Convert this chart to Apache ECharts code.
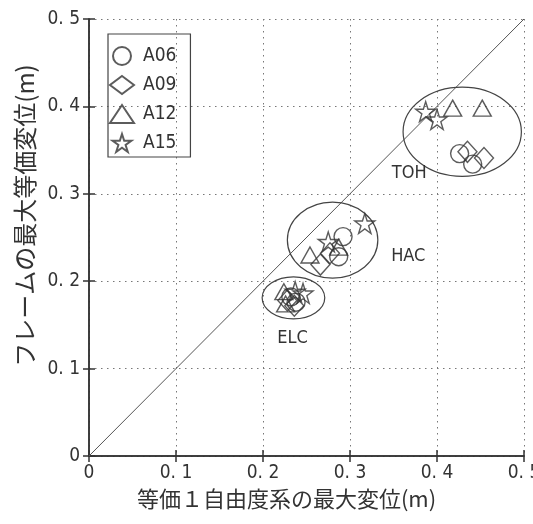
<!DOCTYPE html>
<html>
<head>
<meta charset="utf-8">
<script src="https://cdn.jsdelivr.net/npm/echarts@6/dist/echarts.min.js"></script>
<style>
html, body { margin: 0; padding: 0; background: #fff; }
#chart { width: 533px; height: 524px; }
</style>
</head>
<body>
<div id="chart"></div>
<script>
// series names
var seriesNames = ['A06', 'A09', 'A12', 'A15'];

// [x, y] points, two per cluster (TOH, HAC, ELC)
var dataA06 = [[0.426, 0.346], [0.441, 0.334], [0.292, 0.251], [0.287, 0.228], [0.232, 0.182], [0.238, 0.176]];
var dataA09 = [[0.435, 0.348], [0.454, 0.341], [0.266, 0.219], [0.277, 0.232], [0.228, 0.178], [0.236, 0.172]];
var dataA12 = [[0.418, 0.398], [0.452, 0.398], [0.254, 0.230], [0.287, 0.239], [0.224, 0.188], [0.226, 0.174]];
var dataA15 = [[0.387, 0.394], [0.400, 0.385], [0.317, 0.266], [0.275, 0.245], [0.237, 0.188], [0.246, 0.186]];

// y = x reference line
var diagonal = [[0, 0], [0.5, 0.5]];

// cluster ellipses: [cx, cy, rx, ry] and label position [x, y]
var clusterNames = ['ELC', 'HAC', 'TOH'];
var clusterEllipses = [[0.235, 0.181, 0.036, 0.024], [0.280, 0.247, 0.052, 0.0435], [0.429, 0.371, 0.068, 0.051]];
var clusterLabels = [[0.234, 0.135], [0.367, 0.229], [0.368, 0.323]];

// tick labels
var tickLabels = ['0', '0. 1', '0. 2', '0. 3', '0. 4', '0. 5'];

var starPath = 'path://M50,2 L61,36 L97,36 L68,57 L79,92 L50,71 L21,92 L32,57 L3,36 L39,36 Z';
var symbols = ['circle', 'diamond', 'triangle', starPath];
var symbolSizes = [18, [19, 21], [18, 16], 20];
var allData = [dataA06, dataA09, dataA12, dataA15];

var ink = '#333';
var narrow = "'Liberation Sans Narrow', 'DejaVu Sans Condensed', 'Roboto Condensed', 'Liberation Sans', sans-serif";
var cjk = "'Noto Sans CJK JP', sans-serif";

function tickFmt(v) {
    var i = Math.round(v * 10);
    return tickLabels[i];
}

var baseAxis = {
    type: 'value',
    min: 0,
    max: 0.5,
    interval: 0.1,
    axisLine: { show: true, lineStyle: { color: ink, width: 1.5 } },
    axisTick: { show: true, inside: true, length: 6, lineStyle: { color: ink, width: 1.5 } },
    splitLine: { show: false }
};

var scatterSeries = seriesNames.map(function (name, k) {
    return {
        name: name,
        type: 'scatter',
        data: allData[k],
        symbol: symbols[k],
        symbolSize: symbolSizes[k],
        itemStyle: { color: 'rgba(255,255,255,0)', borderColor: ink, borderWidth: 1.4 },
        z: 5
    };
});

var option = {
    animation: false,
    backgroundColor: '#fff',
    grid: { left: 89, right: 9, top: 19, bottom: 68, outerBoundsMode: 'none', containLabel: false },
    legend: {
        orient: 'vertical',
        left: 108,
        top: 34,
        data: seriesNames,
        itemWidth: 24,
        itemHeight: 18,
        itemGap: 9,
        padding: [12, 14, 4, 1],
        borderColor: '#444',
        borderWidth: 1.2,
        textStyle: { fontFamily: narrow, fontSize: 19, color: ink, padding: [0, 0, 0, 4] }
    },
    xAxis: [
        Object.assign({}, baseAxis, {
            position: 'bottom',
            name: '等価１自由度系の最大変位(m)',
            nameLocation: 'middle',
            nameGap: 29,
            nameTextStyle: { fontFamily: cjk, fontSize: 22, color: ink, padding: [0, 40, 0, 0] },
            axisLabel: { formatter: tickFmt, fontFamily: narrow, fontSize: 19, color: ink, margin: 8 },
            splitLine: { show: true, lineStyle: { color: '#777', type: [1.5, 4.5], width: 1 } }
        }),
        Object.assign({}, baseAxis, { position: 'top', axisLabel: { show: false } })
    ],
    yAxis: [
        Object.assign({}, baseAxis, {
            position: 'left',
            name: 'フレームの最大等価変位(m)',
            nameLocation: 'middle',
            nameGap: 50,
            nameTextStyle: { fontFamily: cjk, fontSize: 24, color: ink, padding: [0, 0, 0, 44] },
            axisLabel: { formatter: tickFmt, fontFamily: narrow, fontSize: 19, color: ink, margin: 9 },
            splitLine: { show: true, lineStyle: { color: '#777', type: [1.5, 4.5], width: 1 } }
        }),
        Object.assign({}, baseAxis, { position: 'right', axisLabel: { show: false } })
    ],
    series: [
        {
            type: 'line',
            data: diagonal,
            symbol: 'none',
            silent: true,
            lineStyle: { color: '#555', width: 1 },
            z: 2
        },
        {
            type: 'custom',
            silent: true,
            data: clusterEllipses.map(function (e, i) {
                return e.concat(clusterLabels[i]);
            }),
            renderItem: function (params, api) {
                var c = api.coord([api.value(0), api.value(1)]);
                var s = api.size([api.value(2), api.value(3)]);
                var lp = api.coord([api.value(4), api.value(5)]);
                return {
                    type: 'group',
                    children: [
                        {
                            type: 'ellipse',
                            shape: { cx: c[0], cy: c[1], rx: s[0], ry: s[1] },
                            style: { fill: null, stroke: '#444', lineWidth: 1.2 }
                        },
                        {
                            type: 'text',
                            x: lp[0],
                            y: lp[1],
                            style: {
                                text: clusterNames[params.dataIndex],
                                fill: ink,
                                font: '18px ' + narrow,
                                align: 'center',
                                verticalAlign: 'middle'
                            }
                        }
                    ]
                };
            },
            z: 3
        }
    ].concat(scatterSeries)
};

var chart = echarts.init(document.getElementById('chart'));
chart.setOption(option);
</script>
</body>
</html>
